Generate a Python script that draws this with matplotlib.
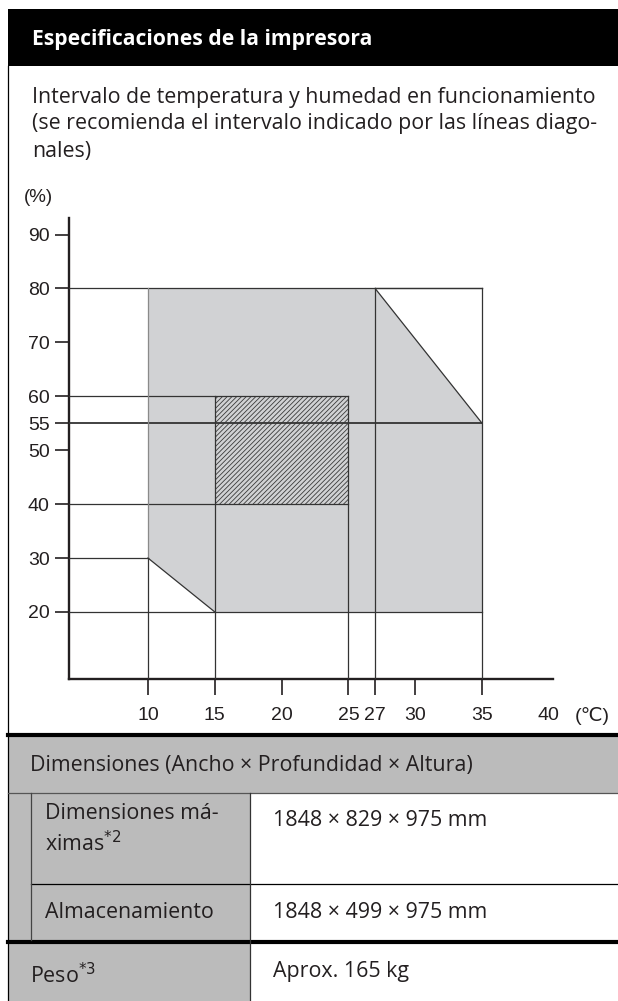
import matplotlib
matplotlib.use("Agg")
import matplotlib.pyplot as plt
from matplotlib.patches import Polygon, Rectangle

# datos del grafico
temp_ticks = [10, 15, 20, 25, 27, 30, 35, 40]
hum_ticks = [20, 30, 40, 50, 55, 60, 70, 80, 90]

# intervalo de funcionamiento (zona gris)
op_temp = [10, 10, 27, 35, 35, 15]
op_hum = [30, 80, 80, 55, 20, 20]

# intervalo recomendado (lineas diagonales)
rec_temp = [15, 25]
rec_hum = [40, 60]

# lineas guia: (humedad, temperatura final) y (temperatura, humedad final)
h_lines = [(80, 35), (60, 25), (55, 35), (40, 25), (30, 10), (20, 35)]
v_lines = [(10, 30), (15, 60), (25, 60), (27, 80), (35, 80)]

# textos
titulo = "Especificaciones de la impresora"
parrafo = ["Intervalo de temperatura y humedad en funcionamiento",
           "(se recomienda el intervalo indicado por las líneas diago-",
           "nales)"]
fila_cab = "Dimensiones (Ancho × Profundidad × Altura)"
filas = [("Dimensiones má-\nximas$^{*2}$", "1848 × 829 × 975 mm"),
         ("Almacenamiento", "1848 × 499 × 975 mm"),
         ("Peso$^{*3}$", "Aprox. 165 kg")]

plt.rcParams["hatch.linewidth"] = 0.6

W, H = 618, 1001
fig = plt.figure(figsize=(W / 100, H / 100), dpi=100)

body = ["Open Sans", "DejaVu Sans"]
chartf = ["Liberation Sans", "DejaVu Sans"]
dark = "#231f20"
gris_tabla = "#bbbbbb"
gris_zona = "#d1d2d4"
fs = 15.4

# capa de pagina en pixeles
pg = fig.add_axes([0, 0, 1, 1])
pg.set_xlim(0, W)
pg.set_ylim(H, 0)
pg.axis("off")

pg.add_patch(Rectangle((8, 9), W - 8, 57, color="black", lw=0))
pg.text(32, 39, titulo, color="white", fontsize=15.2, fontweight="bold",
        family=body, va="center")
pg.plot([8, 8], [66, H], color="black", lw=0.9)

for i, linea in enumerate(parrafo):
    pg.text(32, 97 + 27 * i, linea, fontsize=fs, family=body, va="center",
            color=dark)

# tabla
pg.add_patch(Rectangle((8, 737), W - 8, 56, color=gris_tabla, lw=0))
pg.add_patch(Rectangle((8, 793), 242, 147, color=gris_tabla, lw=0))
pg.add_patch(Rectangle((8, 944), 242, 57, color=gris_tabla, lw=0))
pg.plot([8, W], [735, 735], color="black", lw=3)
pg.plot([8, W], [942, 942], color="black", lw=3)
pg.plot([8, W], [793, 793], color="#555555", lw=0.9)
pg.plot([31, W], [884, 884], color="black", lw=0.9)
pg.plot([31, 31], [793, 940], color="#444444", lw=0.9)
pg.plot([250, 250], [793, H], color="#333333", lw=0.9)

pg.text(30, 766, fila_cab, fontsize=fs, family=body, va="center", color=dark)
pg.text(45, 830, filas[0][0], fontsize=fs, family=body, va="center",
        color=dark, linespacing=1.35)
pg.text(273, 821, filas[0][1], fontsize=fs, family=body, va="center", color=dark)
pg.text(45, 912, filas[1][0], fontsize=fs, family=body, va="center", color=dark)
pg.text(273, 912, filas[1][1], fontsize=fs, family=body, va="center", color=dark)
pg.text(30, 976, filas[2][0], fontsize=fs, family=body, va="center", color=dark)
pg.text(273, 972, filas[2][1], fontsize=fs, family=body, va="center", color=dark)

# grafico
ax = fig.add_axes([69 / W, (H - 679) / H, (553 - 69) / W, (679 - 218) / H])
ax.set_xlim(4.09, 40.31)
ax.set_ylim(7.56, 93.07)
ax.patch.set_alpha(0)
for s in ["top", "right"]:
    ax.spines[s].set_visible(False)
for s in ["left", "bottom"]:
    ax.spines[s].set_linewidth(1.7)
    ax.spines[s].set_color(dark)

ax.add_patch(Polygon(list(zip(op_temp, op_hum)), closed=True,
                     facecolor=gris_zona, edgecolor="none", zorder=1))
ax.add_patch(Rectangle((rec_temp[0], rec_hum[0]), rec_temp[1] - rec_temp[0],
                       rec_hum[1] - rec_hum[0], facecolor=gris_zona,
                       edgecolor="#3a3a3a", hatch="///////", lw=0, zorder=2))

x0, y0 = ax.get_xlim()[0], ax.get_ylim()[0]
for h, t in h_lines:
    lw = 1.3 if h == 55 else 0.9
    ax.plot([x0, t], [h, h], color="#333333", lw=lw, zorder=3)
for t, h in v_lines:
    ax.plot([t, t], [y0, h], color="#333333", lw=0.9, zorder=3)
ax.plot([10, 10], [30, 80], color="#8a8a8a", lw=0.9, zorder=3)
ax.plot([27, 35], [80, 80], color="#333333", lw=0.9, zorder=3)
ax.plot([op_temp[2], op_temp[3]], [op_hum[2], op_hum[3]], color="#333333",
        lw=0.9, zorder=3)
ax.plot([op_temp[0], op_temp[5]], [op_hum[0], op_hum[5]], color="#333333",
        lw=0.9, zorder=3)

ax.set_xticks(temp_ticks)
ax.set_xticklabels([str(t) for t in temp_ticks])
ax.set_yticks(hum_ticks)
ax.set_yticklabels([str(h) for h in hum_ticks])
ax.tick_params(axis="x", length=11.5, width=1.2, color=dark, pad=9,
               labelsize=14, labelcolor=dark)
ax.tick_params(axis="y", length=10, width=1.2, color=dark, pad=4,
               labelsize=14, labelcolor=dark)
ax.xaxis.get_major_ticks()[-1].tick1line.set_visible(False)
for lab in ax.get_xticklabels() + ax.get_yticklabels():
    lab.set_family(chartf)

pg.text(38, 198, "(%)", fontsize=13.5, family=chartf, ha="center", va="center",
        color=dark)
pg.text(592, 716, "(℃)", fontsize=14, family=chartf, ha="center", va="center",
        color=dark)

fig.savefig("out.png", dpi=100)
